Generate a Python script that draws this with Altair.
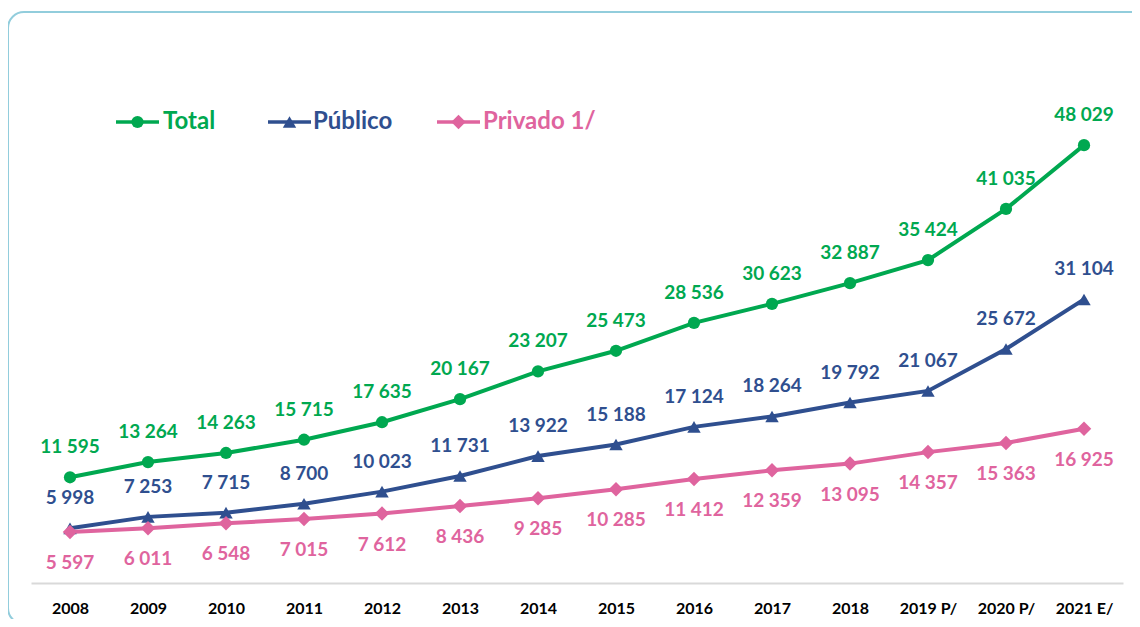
import altair as alt
import pandas as pd

years = ["2008", "2009", "2010", "2011", "2012", "2013", "2014", "2015",
         "2016", "2017", "2018", "2019 P/", "2020 P/", "2021 E/"]
total = [11595, 13264, 14263, 15715, 17635, 20167, 23207, 25473,
         28536, 30623, 32887, 35424, 41035, 48029]
publico = [5998, 7253, 7715, 8700, 10023, 11731, 13922, 15188,
           17124, 18264, 19792, 21067, 25672, 31104]
privado = [5597, 6011, 6548, 7015, 7612, 8436, 9285, 10285,
           11412, 12359, 13095, 14357, 15363, 16925]

series = ["Total", "Público", "Privado 1/"]
colors = ["#00A850", "#2F4F8F", "#DF649E"]
shapes = ["circle", "triangle-up", "diamond"]
marker_sizes = [150, 210, 170]

rows = []
for name, vals in zip(series, [total, publico, privado]):
    for y, v in zip(years, vals):
        rows.append({"year": y, "serie": name, "value": v,
                     "label": f"{v:,}".replace(",", " ")})
df = pd.DataFrame(rows)
legend_df = pd.DataFrame({"serie": series})

FONT = "Lato"

x_enc = alt.X("year:N", sort=years, scale=alt.Scale(type="point", padding=0.5),
              axis=alt.Axis(title=None, labelFont=FONT, labelFontWeight="bold",
                            labelFontSize=16, labelColor="#000000", labelAngle=0,
                            ticks=False, domainColor="#D9D9D9", domainWidth=2,
                            labelPadding=17, grid=False))
y_enc = alt.Y("value:Q", scale=alt.Scale(domain=[0, 60000], nice=False, zero=True),
              axis=None)
color_scale = alt.Scale(domain=series, range=colors)
shape_scale = alt.Scale(domain=series, range=shapes)
size_scale = alt.Scale(domain=series, range=marker_sizes)
color_enc = alt.Color("serie:N", scale=color_scale, legend=None)
shape_enc = alt.Shape("serie:N", scale=shape_scale, legend=None)
size_enc = alt.Size("serie:N", scale=size_scale, legend=None)

base = alt.Chart(df)

border = alt.Chart(alt.Data(values=[{}])).mark_rect(
    fill=None, stroke="#92CDDC", strokeWidth=2, cornerRadius=16
).encode(x=alt.value(-23), x2=alt.value(1116), y=alt.value(-24), y2=alt.value(588))

lines = base.mark_line(strokeWidth=4).encode(
    x=x_enc, y=y_enc, color=color_enc, order=alt.Order("year:N"),
)

points = base.mark_point(filled=True, opacity=1).encode(
    x=x_enc, y=y_enc, color=color_enc, shape=shape_enc, size=size_enc,
)

labels_up = base.transform_filter(
    alt.FieldOneOfPredicate(field="serie", oneOf=["Total", "Público"])
).mark_text(font=FONT, fontWeight="bold", fontSize=19, dy=-30, baseline="middle").encode(
    x=x_enc, y=y_enc, text="label:N", color=color_enc,
)

labels_down = base.transform_filter(
    alt.datum.serie == "Privado 1/"
).mark_text(font=FONT, fontWeight="bold", fontSize=19, dy=31, baseline="middle").encode(
    x=x_enc, y=y_enc, text="label:N", color=color_enc,
)

# manual legend (line + marker + coloured label), layout positions in pixels
legend_layout = [(85, 128, 132), (237, 280, 282), (406, 449, 452)]
LEG_Y = 86
legend_layers = []
for name, (x0, x1, xt) in zip(series, legend_layout):
    lb = alt.Chart(legend_df).transform_filter(alt.datum.serie == name)
    legend_layers.append(lb.mark_rule(strokeWidth=3.5).encode(
        x=alt.value(x0), x2=alt.value(x1), y=alt.value(LEG_Y), color=color_enc))
    legend_layers.append(lb.mark_point(filled=True, opacity=1).encode(
        x=alt.value((x0 + x1) / 2), y=alt.value(LEG_Y), color=color_enc,
        shape=shape_enc, size=size_enc))
    legend_layers.append(lb.mark_text(font=FONT, fontWeight="bold", fontSize=24,
                                      align="left", baseline="middle").encode(
        x=alt.value(xt), y=alt.value(LEG_Y), text="serie:N", color=color_enc))

chart = alt.layer(border, lines, points, labels_up, labels_down, *legend_layers).properties(
    width=1092, height=547,
    autosize=alt.AutoSizeParams(type="none"),
    padding={"left": 23, "top": 28, "right": 9, "bottom": 36},
    background="#FFFFFF",
).configure_view(stroke=None)

chart.save("out.html", embed_options={"renderer": "svg", "actions": False})
